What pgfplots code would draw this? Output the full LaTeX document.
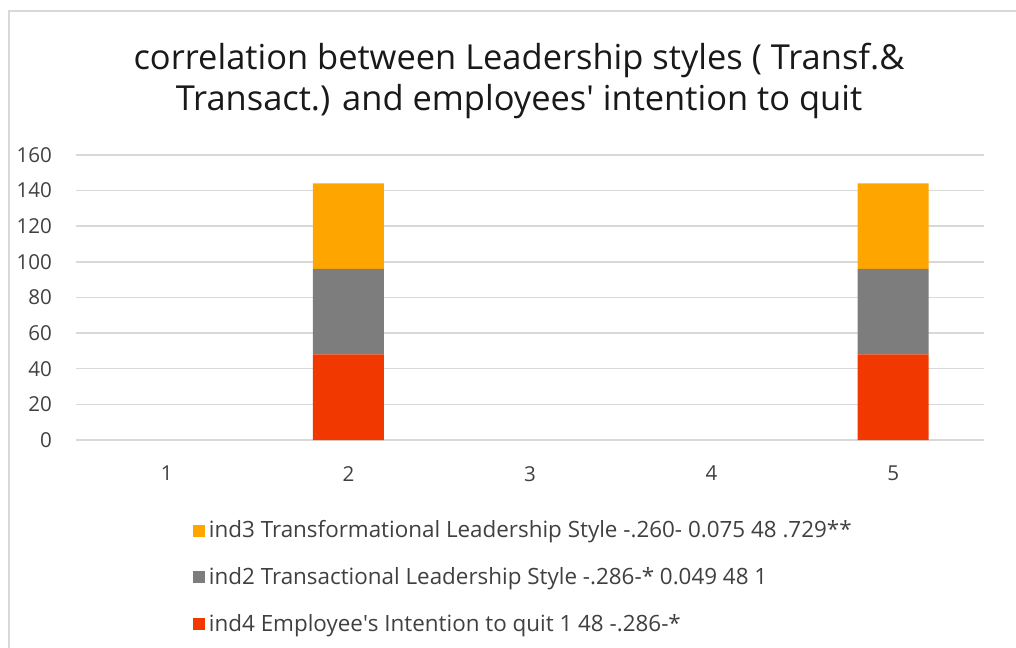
\documentclass[border=0pt]{standalone}
\usepackage{fontspec}
\setmainfont{Open Sans}
\usepackage{pgfplots}
\pgfplotsset{compat=1.18}
\definecolor{cOrange}{RGB}{255,165,0}
\definecolor{cGray}{RGB}{125,125,125}
\definecolor{cRed}{RGB}{240,56,0}
\definecolor{cGrid}{RGB}{217,217,217}
\definecolor{cText}{RGB}{64,64,64}
\begin{document}
\begin{tikzpicture}
% page = 1016 x 648 px, 1px = 0.2mm
\path[use as bounding box] (0,0) rectangle (20.32cm,12.96cm);
\draw[cGrid,line width=0.4mm] (0.18cm,0) -- (0.18cm,12.74cm) -- (20.32cm,12.74cm);
\node[align=center,font=\fontsize{19.6}{22.8}\selectfont,text=black!90] at (10.38cm,11.34cm)
  {correlation between Leadership styles ( Transf.\&\\Transact.) and employees\textquotesingle{} intention to quit};
\begin{axis}[
    at={(1.52cm,4.16cm)}, anchor=south west,
    scale only axis,
    width=18.16cm, height=5.7cm,
    ybar stacked,
    bar width=1.42cm,
    xmin=0.5, xmax=5.5,
    ymin=0, ymax=160,
    xtick={1,2,3,4,5},
    ytick={0,20,...,160},
    ymajorgrids,
    grid style={cGrid,line width=0.3mm},
    axis line style={draw=none},
    major tick length=0pt,
    tick label style={font=\fontsize{11.7}{13}\selectfont,text=cText},
    /pgf/number format/assume math mode=true,
    yticklabel style={xshift=-0.36cm},
    xticklabel style={yshift=-0.4cm},
    legend style={at={(0.129,-0.27)},anchor=north west,draw=none,
        font=\fontsize{12.75}{14}\selectfont,text=cText,
        legend cell align=left,row sep=0.40cm,inner sep=0pt},
    reverse legend,
    legend image code/.code={\fill[#1] (0cm,-0.12cm) rectangle (0.24cm,0.12cm);},
]
\addplot[fill=cRed,draw=none] coordinates {(1,0) (2,48) (3,0) (4,0) (5,48)};
\addlegendentry{ind4 Employee\textquotesingle{}s Intention to quit 1 48 -.286-*}
\addplot[fill=cGray,draw=none] coordinates {(1,0) (2,48) (3,0) (4,0) (5,48)};
\addlegendentry{ind2 Transactional Leadership Style -.286-* 0.049 48 1}
\addplot[fill=cOrange,draw=none] coordinates {(1,0) (2,48) (3,0) (4,0) (5,48)};
\addlegendentry{ind3 Transformational Leadership Style -.260- 0.075 48 .729**}
\end{axis}
\end{tikzpicture}
\end{document}
